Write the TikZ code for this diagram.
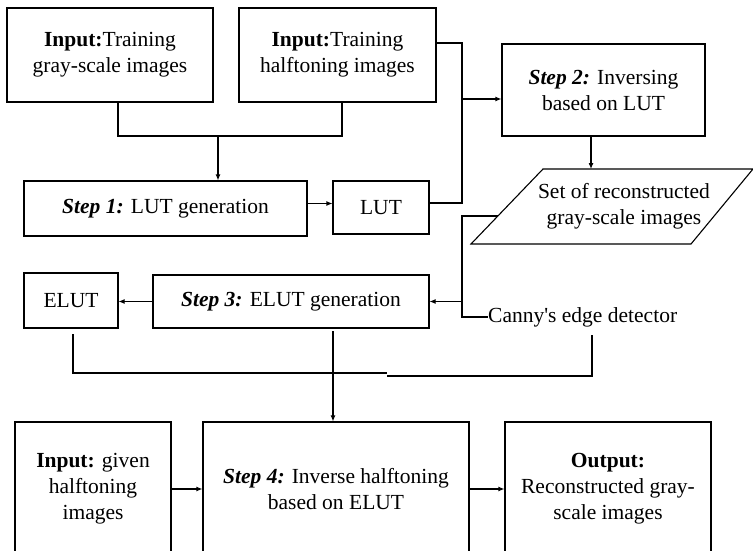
\documentclass[tikz,border=0pt]{standalone}
\usepackage{fontspec}
\setmainfont{Liberation Serif}
\usetikzlibrary{arrows.meta}
\begin{document}
\begin{tikzpicture}[x=1pt,y=-1pt,
  box/.style={draw, line width=1.1pt, align=center, inner sep=2pt, font=\fontsize{21.5}{26}\selectfont},
  lbl/.style={font=\fontsize{21.5}{26}\selectfont, inner sep=0pt, align=center},
  conn/.style={line width=1.1pt},
  arr/.style={conn, -{Latex[length=6pt,width=5pt]}}]
\useasboundingbox (0,0) rectangle (753,551);
\clip (0,0) rectangle (753,551);
\fill[white] (0,0) rectangle (753,551);

% boxes
\node[box, minimum width=206pt, minimum height=94pt] (A) at (110,55)
  {\textbf{Input:}Training\\gray-scale images};
\node[box, minimum width=197pt, minimum height=94pt] (B) at (337.5,55)
  {\textbf{Input:}Training\\halftoning images};
\node[box, minimum width=283pt, minimum height=55pt] (S1) at (165.5,208.5)
  {\textbf{\textit{Step 1:}} LUT generation};
\node[box, minimum width=96pt, minimum height=53pt] (LUT) at (381,207.5) {LUT};
\node[box, minimum width=203pt, minimum height=92pt] (S2) at (603.5,90)
  {\textbf{\textit{Step 2:}} Inversing\\based on LUT};

% parallelogram
\coordinate (pTL) at (543,169);
\coordinate (pTR) at (753,169);
\coordinate (pBR) at (691,244);
\coordinate (pBL) at (471,244);
\draw[conn, line join=miter] (pTL) -- (pTR) -- (pBR) -- (pBL) -- cycle;
\node[lbl] (PAR) at (624,206) {Set of reconstructed\\gray-scale images};

\node[box, minimum width=276pt, minimum height=53pt] (S3) at (291,301.5)
  {\textbf{\textit{Step 3:}} ELUT generation};
\node[box, minimum width=94pt, minimum height=55pt] (E) at (71,300.5) {ELUT};
\node[lbl, anchor=west] (C) at (488,317) {Canny\textquotesingle s edge detector};

\node[box, minimum width=156pt, minimum height=134pt] (IN) at (93,489)
  {\textbf{Input:} given\\halftoning\\images};
\node[box, minimum width=266pt, minimum height=134pt] (S4) at (336,489)
  {\textbf{\textit{Step 4:}} Inverse halftoning\\based on ELUT};
\node[box, minimum width=206pt, minimum height=134pt] (OUT) at (608,489)
  {\textbf{Output:}\\Reconstructed gray-\\scale images};

% connectors top
\coordinate (j1) at (218,136);
\draw[conn] ([xshift=8pt]A.south) |- (j1) -| ([xshift=4.5pt]B.south);
\draw[arr] (j1) -- (j1 |- S1.north);
\draw[arr] ([yshift=5pt]S1.east) -- ([yshift=5pt]S1.east -| LUT.west);

\coordinate (j2) at (462,99);
\draw[conn] ([yshift=12pt]B.east) -| (j2) |- ([yshift=4.5pt]LUT.east);
\draw[arr] (j2) -- (j2 -| S2.west);
\draw[arr] ([xshift=-12.5pt]S2.south) -- ([xshift=-12.5pt]S2.south |- pTL);

% from reconstructed set
\coordinate (pl) at (498,216);
\coordinate (j3) at (462,301.5);
\draw[conn] (pl) -| (j3) |- (C.west);
\draw[arr] (j3) -- (S3.east);
\draw[arr] (S3.west) -- (S3.west -| E.east);

% merge to step 4
\coordinate (e0) at (73,334);
\coordinate (m1) at (387,373);
\coordinate (m2) at (387,376);
\coordinate (c0) at (592,335);
\coordinate (s0) at (333,331);
\draw[conn] (e0) |- (m1);
\draw[conn] (c0) |- (m2);
\draw[arr] (s0) -- (s0 |- S4.north);

% bottom row
\draw[arr] (IN.east) -- (S4.west);
\draw[arr] (S4.east) -- (OUT.west);
\end{tikzpicture}
\end{document}
